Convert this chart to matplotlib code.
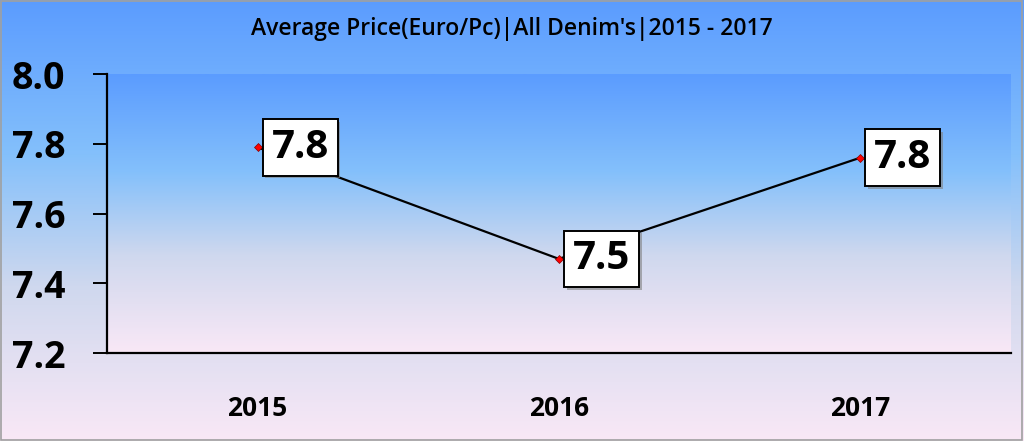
import matplotlib.pyplot as plt
import numpy as np
from matplotlib.colors import LinearSegmentedColormap
import matplotlib.patheffects as pe

years = ['2015', '2016', '2017']
prices = [7.79, 7.47, 7.76]
labels = ['7.8', '7.5', '7.8']
yticks = [7.2, 7.4, 7.6, 7.8, 8.0]

plt.rcParams['font.family'] = ['Open Sans', 'DejaVu Sans']

# blue at the top fading to pale pink at the bottom
grad = LinearSegmentedColormap.from_list(
    'bg', [(0.0, '#f9e8f6'), (0.35, '#cfd8ee'), (0.65, '#84c0fb'), (1.0, '#5b9cff')])

fig = plt.figure(figsize=(10.24, 4.41), dpi=100)

bg = fig.add_axes([0, 0, 1, 1], zorder=-2)
bg.imshow(np.linspace(0, 1, 256).reshape(-1, 1), cmap=grad, origin='lower',
          aspect='auto', extent=[0, 1, 0, 1])
bg.set_axis_off()
# thin gray frame round the whole picture
bg.add_patch(plt.Rectangle((0.001, 0.002), 0.997, 0.995, fill=False,
                           edgecolor='#a0a0a0', lw=1.2, transform=bg.transAxes))

ax = fig.add_axes([0.1045, 0.1995, 0.8825, 0.6325])
ax.set_xlim(-0.5, 2.5)
ax.set_ylim(7.2, 8.0)
ax.imshow(np.linspace(0, 1, 256).reshape(-1, 1), cmap=grad, origin='lower',
          aspect='auto', extent=[-0.5, 2.5, 7.2, 8.0], zorder=0)

x = np.arange(len(years))
ax.plot(x, prices, color='black', lw=1.6, zorder=2)
ax.plot(x, prices, ls='none', marker='D', ms=4, mfc='red', mec='#800000',
        mew=0.5, zorder=3)

for xi, yi, lab in zip(x, prices, labels):
    t = ax.annotate(lab, (xi, yi), xytext=(10, 0), textcoords='offset points',
                    ha='left', va='center', fontsize=29, fontweight='bold',
                    bbox=dict(boxstyle='square,pad=0.22', fc='white', ec='black', lw=1.4),
                    zorder=4)
    t.get_bbox_patch().set_path_effects(
        [pe.SimplePatchShadow(offset=(2, -2), shadow_rgbFace='#808080', alpha=0.6),
         pe.Normal()])

ax.set_xticks(x)
ax.set_xticklabels(years, fontsize=19, fontweight='bold')
ax.set_yticks(yticks)
ax.set_yticklabels(['%.1f' % v for v in yticks], fontsize=27, fontweight='bold')
ax.tick_params(axis='x', length=0, pad=30)
ax.tick_params(axis='y', length=10, width=1.4, pad=20)

for s in ['top', 'right']:
    ax.spines[s].set_visible(False)
for s in ['left', 'bottom']:
    ax.spines[s].set_linewidth(1.6)

fig.text(0.5, 0.935, "Average Price(Euro/Pc)|All Denim's|2015 - 2017",
         ha='center', va='center', fontsize=16.5, fontweight='semibold')

fig.savefig('out.png', dpi=100)
